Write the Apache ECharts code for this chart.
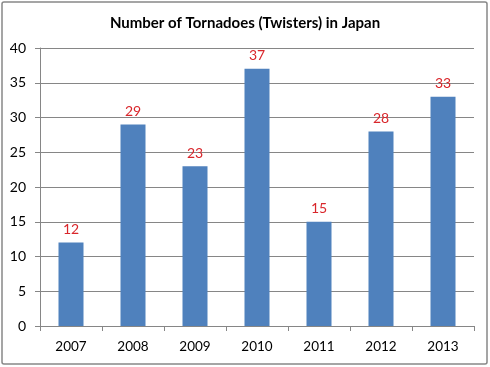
<!DOCTYPE html>
<html>
<head>
<meta charset="utf-8">
<script src="https://cdn.jsdelivr.net/npm/echarts@6/dist/echarts.min.js"></script>
<style>
html,body{margin:0;padding:0;background:#fff;}
#chart{width:490px;height:367px;}
</style>
</head>
<body>
<div id="chart"></div>
<script>
const titleText = "Number of Tornadoes (Twisters) in Japan";
const years = ["2007","2008","2009","2010","2011","2012","2013"];
const tornadoes = [12, 29, 23, 37, 15, 28, 33];
const yTicks = { min: 0, max: 40, interval: 5 };

const font = "Lato, 'Open Sans', sans-serif";
const chart = echarts.init(document.getElementById('chart'), null, {renderer:'canvas'});
chart.setOption({
  animation: false,
  backgroundColor: '#fff',
  graphic: [{
    type: 'rect',
    shape: { x: 2, y: 2, width: 485, height: 362, r: 2 },
    style: { fill: 'none', stroke: '#888', lineWidth: 1.5 },
    silent: true
  }],
  title: {
    text: titleText,
    left: 'center',
    top: 11,
    textStyle: { fontFamily: font, fontWeight: 'bold', fontSize: 15, color: '#000' }
  },
  grid: { left: 40, right: 16, top: 48, bottom: 41, containLabel: false },
  xAxis: {
    type: 'category',
    data: years,
    boundaryGap: true,
    axisLine: { lineStyle: { color: '#868686', width: 1 } },
    axisTick: { show: true, length: 5, alignWithLabel: false, lineStyle: { color: '#868686' } },
    axisLabel: { fontFamily: font, fontSize: 13.5, color: '#000', margin: 14 }
  },
  yAxis: {
    type: 'value',
    min: yTicks.min, max: yTicks.max, interval: yTicks.interval,
    axisLine: { show: true, lineStyle: { color: '#868686', width: 1 } },
    axisTick: { show: true, length: 5, lineStyle: { color: '#868686' } },
    splitLine: { lineStyle: { color: '#868686', width: 1 } },
    axisLabel: { fontFamily: font, fontSize: 14, color: '#000', margin: 14 }
  },
  series: [{
    type: 'bar',
    data: tornadoes,
    barWidth: 25,
    itemStyle: { color: '#4F81BD' },
    label: {
      show: true,
      position: 'top',
      distance: 6,
      fontFamily: font,
      fontSize: 14,
      color: '#D9262B'
    }
  }]
});
</script>
</body>
</html>
